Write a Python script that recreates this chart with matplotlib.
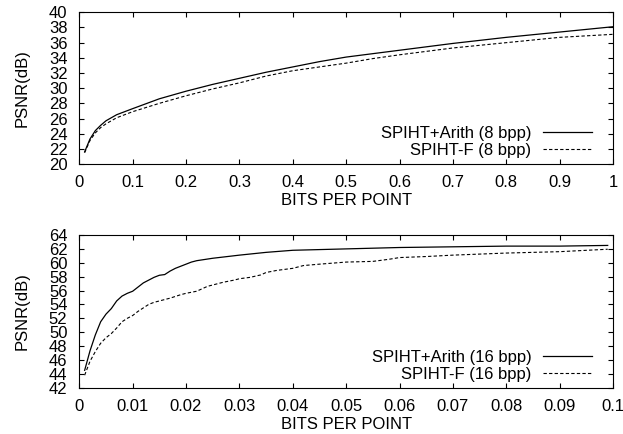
"""
PSNR vs bits per point: SPIHT+Arith against SPIHT-F, 8 bpp and 16 bpp.
"""

import matplotlib
matplotlib.use('Agg')
import matplotlib.pyplot as plt

plt.rcParams.update({
    'font.family': 'Liberation Sans', 'font.size': 12,
    'xtick.direction': 'in', 'ytick.direction': 'in',
    'xtick.top': True, 'ytick.right': True,
    'xtick.major.size': 3.5, 'ytick.major.size': 3.5,
    'axes.linewidth': 0.8,
})

# ── 8 bpp data ───────────────────────────────────────────────────────────────
bpp8       = [0.01, 0.02, 0.03, 0.04, 0.05, 0.07, 0.1, 0.15, 0.2, 0.25, 0.3,
              0.35, 0.4, 0.45, 0.5, 0.6, 0.7, 0.8, 0.9, 1.0]
arith8     = [21.6, 23.3, 24.4, 25.1, 25.7, 26.5, 27.3, 28.6, 29.6, 30.5, 31.3,
              32.1, 32.8, 33.5, 34.1, 35.0, 35.9, 36.7, 37.4, 38.1]
spihtf8_x  = [0.01, 0.02, 0.03, 0.04, 0.05, 0.07, 0.1, 0.15, 0.2, 0.25, 0.3,
              0.35, 0.4, 0.45, 0.5, 0.55, 0.6, 0.7, 0.8, 0.9, 1.0]
spihtf8    = [21.5, 23.1, 24.1, 24.8, 25.3, 26.1, 26.9, 28.0, 29.0, 29.9, 30.7,
              31.6, 32.3, 32.8, 33.3, 33.9, 34.4, 35.3, 36.0, 36.7, 37.1]

# ── 16 bpp data ──────────────────────────────────────────────────────────────
arith16_x  = [0.001, 0.002, 0.003, 0.004, 0.005, 0.006, 0.007, 0.008, 0.009,
              0.010, 0.011, 0.012, 0.013, 0.014, 0.015, 0.016, 0.017, 0.018,
              0.019, 0.020, 0.021, 0.022, 0.025, 0.030, 0.035, 0.040, 0.050,
              0.060, 0.070, 0.080, 0.090, 0.099]
arith16    = [44.5, 47.3, 49.6, 51.5, 52.6, 53.4, 54.5, 55.2, 55.6,
              55.9, 56.5, 57.1, 57.5, 57.9, 58.2, 58.3, 58.8, 59.2,
              59.5, 59.8, 60.1, 60.3, 60.65, 61.1, 61.5, 61.8, 62.0,
              62.2, 62.3, 62.4, 62.4, 62.5]
spihtf16_x = [0.001, 0.002, 0.003, 0.004, 0.005, 0.006, 0.007, 0.008, 0.009,
              0.010, 0.011, 0.012, 0.013, 0.014, 0.015, 0.017, 0.019, 0.020,
              0.022, 0.024, 0.025, 0.027, 0.029, 0.030, 0.032, 0.034, 0.035,
              0.037, 0.040, 0.042, 0.045, 0.050, 0.055, 0.058, 0.060, 0.065,
              0.070, 0.080, 0.090, 0.099]
spihtf16   = [43.8, 45.8, 47.2, 48.4, 49.2, 49.8, 50.6, 51.5, 52.0,
              52.4, 53.0, 53.5, 54.0, 54.3, 54.5, 54.9, 55.4, 55.6,
              55.9, 56.6, 56.8, 57.2, 57.5, 57.7, 57.9, 58.25, 58.6,
              58.9, 59.2, 59.6, 59.8, 60.1, 60.2, 60.5, 60.75, 60.9,
              61.1, 61.4, 61.6, 61.95]

DASH = (0, (3, 2))

fig = plt.figure(figsize=(6.23, 4.34), dpi=100)
ax1 = fig.add_axes([0.1273, 0.6221, 0.8567, 0.3495])
ax2 = fig.add_axes([0.1273, 0.1067, 0.8567, 0.3518])

ax1.plot(bpp8, arith8, color='black', lw=0.9, label='SPIHT+Arith (8 bpp)')
ax1.plot(spihtf8_x, spihtf8, color='black', lw=0.8, linestyle=DASH,
         label='SPIHT-F (8 bpp)')
ax1.set_xlim(0, 1)
ax1.set_ylim(20, 40)
ax1.set_xticks([i / 10 for i in range(11)])
ax1.set_xticklabels(['0'] + [f'{i/10:.1f}' for i in range(1, 10)] + ['1'])
ax1.set_yticks(range(20, 41, 2))

ax2.plot(arith16_x, arith16, color='black', lw=0.9, label='SPIHT+Arith (16 bpp)')
ax2.plot(spihtf16_x, spihtf16, color='black', lw=0.8, linestyle=DASH,
         label='SPIHT-F (16 bpp)')
ax2.set_xlim(0, 0.1)
ax2.set_ylim(42, 64)
ax2.set_xticks([i / 100 for i in range(11)])
ax2.set_xticklabels(['0'] + [f'{i/100:.2f}' for i in range(1, 10)] + ['0.1'])
ax2.set_yticks(range(42, 65, 2))

for ax in (ax1, ax2):
    ax.tick_params(axis='x', pad=8)
    ax.tick_params(axis='y', pad=8.5)
    ax.set_xlabel('BITS PER POINT', labelpad=2)
    ax.set_ylabel('PSNR(dB)', labelpad=14)
    ax.legend(loc='lower right', frameon=False, markerfirst=False,
              handlelength=2.95, handletextpad=0.68, labelspacing=0.1,
              borderpad=0, borderaxespad=0, bbox_to_anchor=(0.9607, 0.04))

fig.savefig('out.png', dpi=100)
